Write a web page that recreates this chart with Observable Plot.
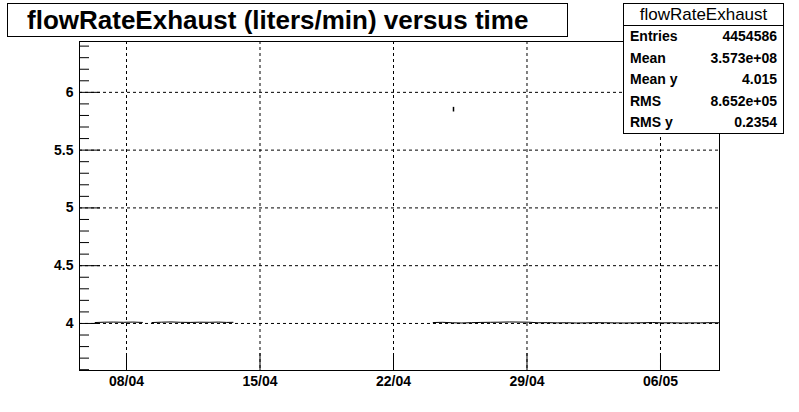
<!DOCTYPE html>
<html>
<head>
<meta charset="utf-8">
<script src="https://cdn.jsdelivr.net/npm/d3@7"></script>
<script src="https://cdn.jsdelivr.net/npm/@observablehq/plot@0.6"></script>
<style>
  html, body { margin: 0; padding: 0; background: #fff; }
  #wrap { position: relative; width: 799px; height: 412px; font-family: "Liberation Sans", Arial, Helvetica, sans-serif; }
  #title { position: absolute; left: 7px; top: 3px; width: 561px; height: 34px; box-sizing: border-box; border: 1px solid #000; background: #fff;
           font-weight: bold; font-size: 26px; line-height: 32px; text-align: left; padding-left: 19px; z-index: 2; white-space: nowrap; }
  #stats { position: absolute; left: 623px; top: 3px; width: 161px; height: 131px; box-sizing: border-box; border: 1px solid #000; background: #fff; z-index: 2; }
  #stats .hdr { height: 21px; border-bottom: 1px solid #000; text-align: center; font-size: 17px; line-height: 21px; }
  #stats .row { position: relative; height: 21.6px; font-size: 14px; font-weight: bold; line-height: 21.6px; }
  #stats .row .k { position: absolute; left: 6px; }
  #stats .row .v { position: absolute; right: 6px; }
</style>
</head>
<body>
<div id="wrap">
  <div id="title"></div>
  <div id="stats"></div>
  <div id="chart"></div>
</div>
<script>
// ---- data ----
const titleText = "flowRateExhaust (liters/min) versus time";
const statsName = "flowRateExhaust";
const statsKeys = ["Entries", "Mean", "Mean y", "RMS", "RMS y"];
const statsVals = ["4454586", "3.573e+08", "4.015", "8.652e+05", "0.2354"];

const times = [
  "2009-04-06T08:30Z","2009-04-06T20:00Z","2009-04-07T08:00Z","2009-04-07T20:00Z",
  "2009-04-08T08:00Z","2009-04-08T20:00Z","2009-04-09T02:00Z","2009-04-09T08:00Z",
  "2009-04-09T20:00Z","2009-04-10T08:00Z","2009-04-10T20:00Z","2009-04-11T08:00Z",
  "2009-04-11T20:00Z","2009-04-12T08:00Z","2009-04-12T20:00Z","2009-04-13T06:00Z",
  "2009-04-13T14:00Z","2009-04-18T00:00Z",
  "2009-04-24T02:00Z","2009-04-24T14:00Z","2009-04-25T02:00Z","2009-04-25T14:00Z",
  "2009-04-26T02:00Z","2009-04-26T14:00Z","2009-04-27T02:00Z","2009-04-27T14:00Z",
  "2009-04-28T02:00Z","2009-04-28T14:00Z","2009-04-29T02:00Z","2009-04-29T14:00Z",
  "2009-04-30T02:00Z","2009-04-30T14:00Z","2009-05-01T02:00Z","2009-05-01T14:00Z",
  "2009-05-02T02:00Z","2009-05-02T14:00Z","2009-05-03T02:00Z","2009-05-03T14:00Z",
  "2009-05-04T02:00Z","2009-05-04T14:00Z","2009-05-05T02:00Z","2009-05-05T14:00Z",
  "2009-05-06T02:00Z","2009-05-06T14:00Z","2009-05-07T02:00Z","2009-05-07T14:00Z",
  "2009-05-08T02:00Z","2009-05-08T14:00Z","2009-05-09T02:00Z"
];
const values = [
  4.008, 4.011, 4.012, 4.010,
  4.012, 4.009, NaN, 4.008,
  4.011, 4.013, 4.010, 4.009,
  4.011, 4.010, 4.012, 4.009,
  4.010, NaN,
  4.008, 4.010, 4.006, 4.004,
  4.007, 4.009, 4.010, 4.011,
  4.013, 4.012, 4.011, 4.006,
  4.007, 4.005, 4.006, 4.004,
  4.005, 4.007, 4.006, 4.005,
  4.004, 4.005, 4.006, 4.008,
  4.005, 4.006, 4.004, 4.005,
  4.005, 4.007, 4.006
];
const outlierTimes = ["2009-04-25T03:30Z"];
const outlierLow = [5.83];
const outlierHigh = [5.87];

const xTicks = ["2009-04-08T00:00Z","2009-04-15T00:00Z","2009-04-22T00:00Z","2009-04-29T00:00Z","2009-05-06T00:00Z"];
const yMajor = [4, 4.5, 5, 5.5, 6];
const yMinor = [3.6,3.7,3.8,3.9,4.1,4.2,4.3,4.4,4.6,4.7,4.8,4.9,5.1,5.2,5.3,5.4,5.6,5.7,5.8,5.9,6.1,6.2,6.3,6.4];
const xDomain = ["2009-04-05T12:51Z", "2009-05-09T02:15Z"];
const yDomain = [3.593, 6.44];

// ---- build ----
const series = times.map((t, i) => ({t: new Date(t), v: values[i]}));
const outliers = outlierTimes.map((t, i) => ({t: new Date(t), lo: outlierLow[i], hi: outlierHigh[i]}));
const xTickDates = xTicks.map(d => new Date(d));

document.getElementById("title").textContent = titleText;
const st = document.getElementById("stats");
st.innerHTML = `<div class="hdr">${statsName}</div>` +
  statsKeys.map((k, i) => `<div class="row"><span class="k">${k}</span><span class="v">${statsVals[i]}</span></div>`).join("");

const fmt = d3.utcFormat("%d/%m");
const chart = Plot.plot({
  width: 799, height: 412,
  marginLeft: 79, marginRight: 80, marginTop: 41, marginBottom: 42,
  style: {fontFamily: '"Liberation Sans", Arial, sans-serif', fontSize: "14px", fontWeight: "bold", color: "#000", background: "#fff"},
  x: {type: "utc", domain: xDomain.map(d => new Date(d))},
  y: {domain: yDomain},
  marks: [
    Plot.gridX(xTickDates, {stroke: "#000", strokeOpacity: 1, strokeDasharray: "3,3"}),
    Plot.gridY(yMajor, {stroke: "#000", strokeOpacity: 1, strokeDasharray: "3,3"}),
    Plot.axisY({ticks: yMajor, tickSize: -21, tickFormat: () => "", label: null}),
    Plot.axisY({ticks: yMinor, tickSize: -10, tickFormat: () => "", label: null}),
    Plot.axisY({ticks: yMajor, tickSize: 0, tickPadding: 6, tickFormat: d => String(d), label: null}),
    Plot.axisX({ticks: xTickDates, tickSize: -17, tickFormat: () => "", label: null}),
    Plot.axisX({ticks: xTickDates, tickSize: 0, tickPadding: 6, tickFormat: fmt, label: null}),
    Plot.line(series, {x: "t", y: "v", stroke: "#000", strokeWidth: 1}),
    Plot.ruleX(outliers, {x: "t", y1: "lo", y2: "hi", stroke: "#000", strokeWidth: 1.5}),
    Plot.frame({stroke: "#000", strokeWidth: 1})
  ]
});
document.getElementById("chart").appendChild(chart);
</script>
</body>
</html>
